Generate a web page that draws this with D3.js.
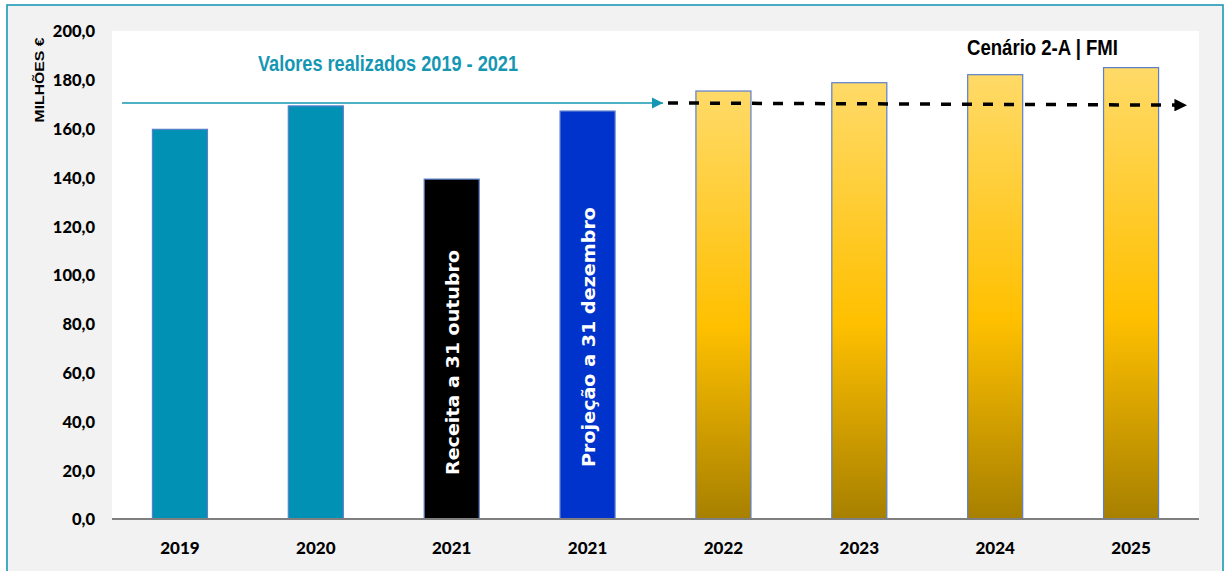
<!DOCTYPE html>
<html>
<head>
<meta charset="utf-8">
<script src="https://cdn.jsdelivr.net/npm/d3@7"></script>
<style>
  html, body { margin: 0; padding: 0; background: #ffffff; }
  svg { display: block; }
</style>
</head>
<body>
<svg id="chart" width="1226" height="571"></svg>
<script>
// ---- data ----
const categories = ["2019", "2020", "2021", "2021 ", "2022", "2023", "2024", "2025"];
const tickLabels = ["2019", "2020", "2021", "2021", "2022", "2023", "2024", "2025"];
const values = [159.7, 169.3, 139.3, 167.2, 175.4, 178.8, 182.1, 185.0];
const barKinds = ["real", "real", "oct", "dec", "proj", "proj", "proj", "proj"];
const yTicks = [0, 20, 40, 60, 80, 100, 120, 140, 160, 180, 200];
const barTexts = ["", "", "Receita a 31 outubro", "Projeção a 31 dezembro", "", "", "", ""];
const realizedLevel = [170.5, 170.5];     // teal arrow (start, end)
const scenarioLevel = [170.5, 169.6];     // dashed arrow (start, end)

// ---- layout ----
const svg = d3.select("#chart");
const plot = { left: 112, top: 31, right: 1199, bottom: 519 };

const x = d3.scaleBand().domain(categories).range([plot.left, plot.right]).paddingInner(0.595).paddingOuter(0.2975);
const y = d3.scaleLinear().domain([0, 200]).range([plot.bottom, plot.top]);

// outer panel
svg.append("rect").attr("x", 7).attr("y", 5).attr("width", 1216).attr("height", 580)
  .attr("fill", "#f2f2f2").attr("stroke", "#1b98b5").attr("stroke-width", 1.6);

// plot area
svg.append("rect").attr("x", plot.left).attr("y", plot.top)
  .attr("width", plot.right - plot.left).attr("height", plot.bottom - plot.top).attr("fill", "#ffffff");

// gradient
const defs = svg.append("defs");
const g = defs.append("linearGradient").attr("id", "gold").attr("x1", 0).attr("y1", 0).attr("x2", 0).attr("y2", 1);
g.append("stop").attr("offset", "0%").attr("stop-color", "#ffda68");
g.append("stop").attr("offset", "55%").attr("stop-color", "#ffc000");
g.append("stop").attr("offset", "100%").attr("stop-color", "#a78000");

const fills = { real: "#0091b4", oct: "#000000", dec: "#0033cc", proj: "url(#gold)" };

// bars
svg.append("g").selectAll("rect").data(values).join("rect")
  .attr("x", (d, i) => x(categories[i]))
  .attr("y", d => y(d))
  .attr("width", x.bandwidth())
  .attr("height", d => y(0) - y(d))
  .attr("fill", (d, i) => fills[barKinds[i]])
  .attr("stroke", "#5b7fcc")
  .attr("stroke-width", 1.2);

// x axis line
svg.append("line").attr("x1", plot.left).attr("x2", plot.right)
  .attr("y1", y(0)).attr("y2", y(0)).attr("stroke", "#7f7f7f").attr("stroke-width", 2);

// y axis
const yAxis = d3.axisLeft(y).tickValues(yTicks).tickSize(0).tickPadding(0)
  .tickFormat(d => d3.format(".1f")(d).replace(".", ","));
const ya = svg.append("g").attr("transform", `translate(95,0)`).call(yAxis);
ya.select(".domain").remove();
ya.selectAll("text").attr("font-family", "Lato, 'Noto Sans', sans-serif")
  .attr("font-weight", 900).attr("font-size", 16.5).attr("fill", "#000").attr("dy", "0.36em");

// x axis labels
const xAxis = d3.axisBottom(x).tickSize(0).tickPadding(0).tickFormat((d, i) => tickLabels[i]);
const xa = svg.append("g").attr("transform", `translate(0,${y(0)})`).call(xAxis);
xa.select(".domain").remove();
xa.selectAll("text").attr("font-family", "Lato, 'Noto Sans', sans-serif")
  .attr("font-weight", 900).attr("font-size", 17).attr("fill", "#000").attr("dy", 0).attr("y", 35);

// y axis title
svg.append("text").attr("transform", "translate(43.5,80) rotate(-90)")
  .attr("text-anchor", "middle").attr("font-family", "'Liberation Sans Narrow', Arial, sans-serif").attr("font-weight", "bold")
  .attr("font-size", 13).attr("fill", "#000").attr("textLength", 85).attr("lengthAdjust", "spacingAndGlyphs")
  .text("MILHÕES €");

// texts inside bars
const barTextStart = [0, 0, 475, 467, 0, 0, 0, 0];
const barTextLen = [0, 0, 225, 260, 0, 0, 0, 0];
barTexts.forEach((t, i) => {
  if (!t) return;
  const cx = x(categories[i]) + x.bandwidth() / 2 + 7;
  svg.append("text").attr("transform", `translate(${cx},${barTextStart[i]}) rotate(-90)`)
    .attr("font-family", "'DejaVu Sans', sans-serif").attr("font-weight", "bold").attr("font-size", 17)
    .attr("fill", "#ffffff").attr("textLength", barTextLen[i]).attr("lengthAdjust", "spacingAndGlyphs")
    .text(t);
});

// titles
svg.append("text").attr("x", 258).attr("y", 71)
  .attr("font-family", "'Liberation Sans Narrow', sans-serif").attr("font-weight", "bold").attr("font-size", 22)
  .attr("fill", "#1597b4").attr("textLength", 260).attr("lengthAdjust", "spacingAndGlyphs")
  .text("Valores realizados 2019 - 2021");
svg.append("text").attr("x", 967).attr("y", 55)
  .attr("font-family", "'Liberation Sans Narrow', sans-serif").attr("font-weight", "bold").attr("font-size", 22)
  .attr("fill", "#000").attr("textLength", 151).attr("lengthAdjust", "spacingAndGlyphs")
  .text("Cenário 2-A | FMI");

// markers
defs.append("marker").attr("id", "tealHead").attr("viewBox", "0 0 10 10").attr("refX", 10).attr("refY", 5)
  .attr("markerWidth", 7).attr("markerHeight", 7).attr("markerUnits", "strokeWidth").attr("orient", "auto")
  .append("path").attr("d", "M0,0 L10,5 L0,10 Z").attr("fill", "#1597b4");
defs.append("marker").attr("id", "blackHead").attr("viewBox", "0 0 10 10").attr("refX", 10).attr("refY", 5)
  .attr("markerWidth", 3.6).attr("markerHeight", 3.6).attr("markerUnits", "strokeWidth").attr("orient", "auto")
  .append("path").attr("d", "M0,0 L10,5 L0,10 Z").attr("fill", "#000");

// teal arrow
svg.append("line").attr("x1", 122).attr("x2", 663)
  .attr("y1", y(realizedLevel[0])).attr("y2", y(realizedLevel[1]))
  .attr("stroke", "#1597b4").attr("stroke-width", 1.6).attr("marker-end", "url(#tealHead)");

// dashed black arrow
svg.append("line").attr("x1", 668).attr("x2", 1187)
  .attr("y1", y(scenarioLevel[0])).attr("y2", y(scenarioLevel[1]))
  .attr("stroke", "#000").attr("stroke-width", 3.5).attr("stroke-dasharray", "10,11")
  .attr("marker-end", "url(#blackHead)");
</script>
</body>
</html>
